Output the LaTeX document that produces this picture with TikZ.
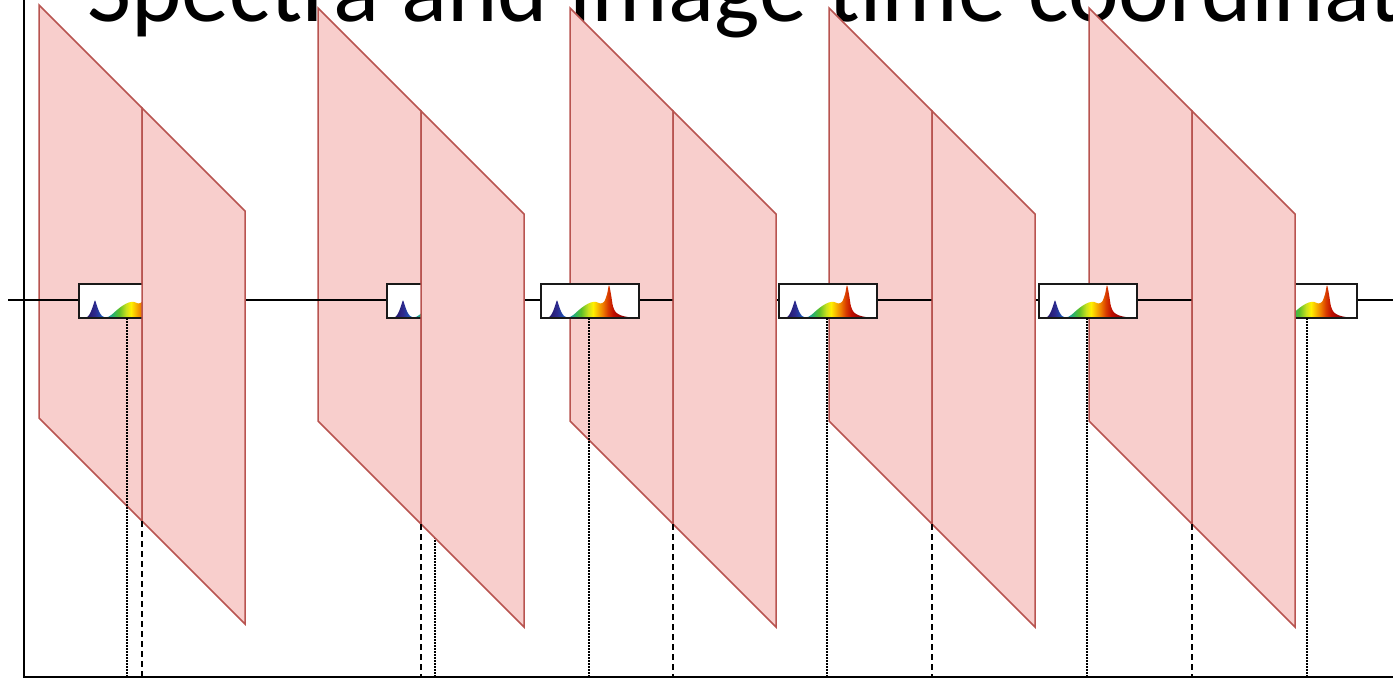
\documentclass[tikz,border=0pt]{standalone}
\usepackage{fontspec}
\setmainfont{Carlito}
\usetikzlibrary{calc}

\definecolor{panelfill}{HTML}{F8CECC}
\definecolor{panelline}{HTML}{B85450}

% spectrum colours, violet to deep red
\definecolor{spA}{HTML}{24186A}
\definecolor{spB}{HTML}{2D2A8F}
\definecolor{spC}{HTML}{1F4FB0}
\definecolor{spD}{HTML}{1A8FC0}
\definecolor{spE}{HTML}{2BB36A}
\definecolor{spF}{HTML}{5CBF2A}
\definecolor{spG}{HTML}{C8E01E}
\definecolor{spH}{HTML}{FFF000}
\definecolor{spI}{HTML}{F7B500}
\definecolor{spJ}{HTML}{EE7A00}
\definecolor{spK}{HTML}{D83A00}
\definecolor{spL}{HTML}{C01000}
\definecolor{spM}{HTML}{9A0000}
\definecolor{spN}{HTML}{7A0000}

% the middle 25bp..75bp band is stretched over the box width
\pgfdeclarehorizontalshading{spectral}{100bp}{%
  color(0bp)=(spA); color(29.08bp)=(spA); color(33.16bp)=(spB);
  color(36.22bp)=(spC); color(39.29bp)=(spD); color(42.35bp)=(spE);
  color(45.41bp)=(spF); color(48.98bp)=(spG); color(51.53bp)=(spH);
  color(54.08bp)=(spI); color(56.63bp)=(spJ); color(59.18bp)=(spK);
  color(61.73bp)=(spL); color(65.82bp)=(spM); color(71.94bp)=(spN);
  color(100bp)=(spN)}

\tikzset{
  panel/.style={fill=panelfill, draw=panelline, line width=1.5pt, line join=miter},
  axisline/.style={draw=black, line width=2pt},
  timeline/.style={draw=black, line width=1.4pt},
  specbox/.style={fill=white, inner sep=0pt, minimum width=98pt,
    minimum height=34pt, anchor=north west},
  boxedge/.style={draw=black!90, line width=2pt},
  dotline/.style={draw=black, line width=2pt, dash pattern=on 1.5pt off 1.5pt},
  dashline/.style={draw=black, line width=2pt, dash pattern=on 5.5pt off 4.5pt},
}

% left half of an image plane: #1 name, #2 left x, #3 top y
\newcommand\planeleft[3]{%
  \filldraw[panel] (#2,#3) -- ++(103,103) -- ++(0,413) -- ++(-103,-103) -- cycle;
  \coordinate (#1m) at (#2+103,#3+516);
}
% right half of an image plane
\newcommand\planeright[3]{%
  \filldraw[panel] (#2+103,#3+103) -- ++(103,103) -- ++(0,413) -- ++(-103,-103) -- cycle;
}
% spectrum box: #1 name, #2 left x
\newcommand\spectrumbox[2]{%
  \node[specbox] (#1) at (#2,284) {};
  \begin{scope}[shift={(#1.south west)}]
    \clip plot[smooth, tension=0.55] coordinates {
      (5,0) (9,-2) (12,-7) (14.5,-14) (16,-18) (17.5,-14) (20,-7) (23,-2.5)
      (26,-1) (29,-1.5) (33,-4) (38,-8.5) (44,-13) (50,-16) (55,-16.5)
      (59,-15) (63,-16.5) (66,-24) (68,-33) (70,-24) (72,-12) (75,-6)
      (80,-3) (86,-1.5) (92,-0.5) (95,0)} -- cycle;
    \shade[shading=spectral] (0,0) rectangle (98,-34);
  \end{scope}
  \draw[boxedge] (#1.south west) rectangle (#1.north east);
}

\begin{document}
\begin{tikzpicture}[x=1pt, y=-1pt]
  \useasboundingbox (0,0) rectangle (1393,678);
  \clip (0,0) rectangle (1393,678);

  % heading
  \node[anchor=base west, inner sep=0pt, font=\fontsize{96}{100}\selectfont]
    (title) at (87,21) {Spectra and image time coordinat};

  % left halves of the planes
  \planeleft{p1}{39}{5}
  \planeleft{p2}{318}{8}
  \planeleft{p3}{570}{8}
  \planeleft{p4}{829}{8}
  \planeleft{p5}{1089}{8}

  % time line
  \coordinate (tl) at (8,300);
  \coordinate (tr) at (1393,300);
  \draw[timeline] (tl) -- (tr);

  % spectra along the time line
  \spectrumbox{b1}{79}
  \spectrumbox{b2}{387}
  \spectrumbox{b3}{541}
  \spectrumbox{b4}{779}
  \spectrumbox{b5}{1039}
  \spectrumbox{b6}{1259}

  % axes
  \coordinate (origin) at (24,677);
  \coordinate (ytop) at (24,0);
  \coordinate (xend) at (1393,677);

  \foreach \b in {b1,b2,b3,b4,b5,b6}
    \draw[dotline] ([xshift=-1pt]\b.south) -- ([xshift=-1pt]\b.south |- origin);

  % right halves of the planes
  \planeright{p1}{39}{5}
  \planeright{p2}{318}{8}
  \planeright{p3}{570}{8}
  \planeright{p4}{829}{8}
  \planeright{p5}{1089}{8}

  \foreach \p in {p1,p2,p3,p4,p5}
    \draw[dashline] (\p m) -- (\p m |- origin);

  \draw[axisline] (ytop) -- (origin) -- (xend);
\end{tikzpicture}
\end{document}
